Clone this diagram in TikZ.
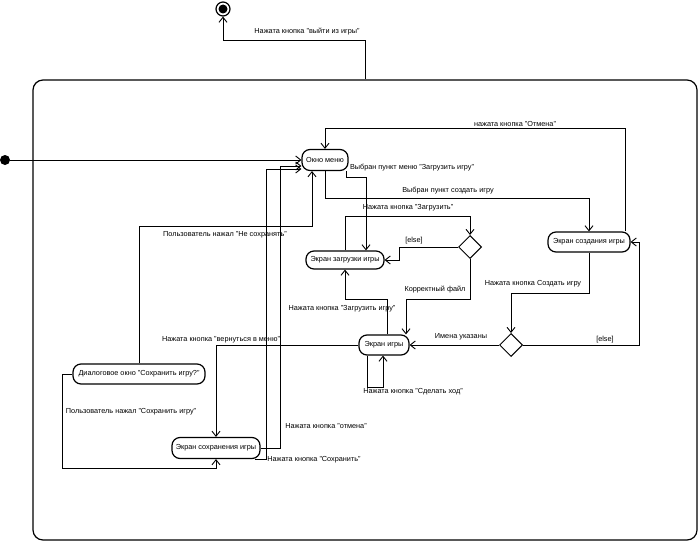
\documentclass[tikz,border=0pt]{standalone}
\usepackage{fontspec}
\setmainfont{Liberation Sans}
\usetikzlibrary{arrows.meta,shapes.geometric}
\begin{document}
\begin{tikzpicture}[x=1pt,y=-1pt,
        every node/.style={font=\fontsize{7.3}{8.5}\selectfont},
        state/.style={draw,rounded corners=8pt,line width=1.2pt,inner sep=0pt,align=center},
        choice/.style={draw,diamond,line width=1pt,minimum size=23pt,inner sep=0pt},
        flow/.style={line width=0.9pt,-{Straight Barb[length=5pt,width=8pt]}},
        lbl/.style={inner sep=1pt}]
                \useasboundingbox (0,0) rectangle (700,543);
                \node[draw,rounded corners=10pt,line width=1.2pt,minimum width=664pt,minimum height=460pt] (game) at (365,310) {};
                \node[state,minimum width=46pt,minimum height=21pt] (menu) at (325,160) {Окно меню};
                \node[state,minimum width=78pt,minimum height=18pt] (loadscr) at (345,260) {Экран загрузки игры};
                \node[state,minimum width=82pt,minimum height=20pt] (createscr) at (589,242) {Экран создания игры};
                \node[state,minimum width=50pt,minimum height=20pt] (gamescr) at (384,345) {Экран игры};
                \node[state,minimum width=132pt,minimum height=20pt] (savedlg) at (139,374) {Диалоговое окно "Сохранить игру?"};
                \node[state,minimum width=88pt,minimum height=21pt] (savescr) at (216,448) {Экран сохранения игры};
                \node[choice] (fileok) at (470,247) {};
                \node[choice] (namesok) at (511,345) {};
                \node[circle,fill,minimum size=10pt,inner sep=0pt] (start) at (5,160) {};
                \node[circle,draw,line width=1.2pt,minimum size=14pt,inner sep=0pt] (finish) at (223,9) {};
                \fill (finish.center) circle[radius=4.5pt];
                   \draw[flow] (start) -- (menu.west);
                   \draw[flow] (game.north) -- ++(0,-39) -| (finish);
                   \draw[flow] ([xshift=-2pt]menu.south east) -- ++(0,6) -| ([xshift=21pt]loadscr.north);
                   \draw[flow] (menu.south) -- ++(0,27.5) -| (createscr.north);
                   \draw[flow] ([xshift=36pt]createscr.north) -- ++(0,-103) -| (menu.north);
                   \draw[flow] (loadscr.north) -- ++(0,-34) -| (fileok.north);
                   \draw[flow] (fileok.west) -| ([xshift=15pt]loadscr.east) -- (loadscr.east);
                   \draw[flow] (fileok.south) -- ++(0,40) -| ([xshift=22pt]gamescr.north);
                   \draw[flow] ([xshift=3pt]gamescr.north) -- ++(0,-35) -| (loadscr.south);
                   \draw[flow] (createscr.south) -- ++(0,41) -| (namesok.north);
                   \draw[flow] (namesok.west) -- (gamescr.east);
                   \draw[flow] (namesok.east) -| ([xshift=9pt]createscr.east) -- (createscr.east);
                   \draw[flow] ([xshift=-17pt]gamescr.south) -- ++(0,32) -| ([xshift=-1pt]gamescr.south);
                   \draw[flow] (gamescr.west) -| (savescr.north);
                   \draw[flow] (savescr.east) -- ++(20,0) |- ([yshift=-6pt]menu.west);
                   \draw[flow] ([xshift=-6pt]savescr.south east) -- ++(12,0) |- ([yshift=-9pt]menu.west);
                   \draw[flow] (savedlg.north) -- ++(0,-137) -| ([xshift=-13pt]menu.south);
                   \draw[flow] (savedlg.west) -- ++(-10,0) -- ++(0,94) -| (savescr.south);
                \node[lbl] (lexit) at (307,32) {Нажата кнопка "выйти из игры"};
                \node[lbl] (lloadmenu) at (412,168) {Выбран пункт меню "Загрузить игру"};
                \node[lbl] (lcreatemenu) at (448,191) {Выбран пункт создать игру};
                \node[lbl] (lcancel) at (515,124) {нажата кнопка "Отмена"};
                \node[lbl] (lload) at (408,208) {Нажата кнопка "Загрузить"};
                \node[lbl] (lelsefile) at (414,241) {[else]};
                \node[lbl] (lfileok) at (435,290) {Корректный файл};
                \node[lbl] (lloadgame) at (342,309) {Нажата кнопка "Загрузить игру"};
                \node[lbl] (lcreate) at (533,284) {Нажата кнопка Создать игру};
                \node[lbl] (lnames) at (461,337) {Имена указаны};
                \node[lbl] (lelsenames) at (605,340) {[else]};
                \node[lbl] (lmove) at (413,392) {Нажата кнопка "Сделать ход"};
                \node[lbl] (lback) at (221,340) {Нажата кнопка "вернуться в меню"};
                \node[lbl] (lnosave) at (225,235) {Пользователь нажал "Не сохранять"};
                \node[lbl] (lsave) at (131,412) {Пользователь нажал "Сохранить игру"};
                \node[lbl] (lsavecancel) at (326,426) {Нажата кнопка "отмена"};
                \node[lbl] (lsaveok) at (314,460) {Нажата кнопка "Сохранить"};
            \end{tikzpicture}
\end{document}
